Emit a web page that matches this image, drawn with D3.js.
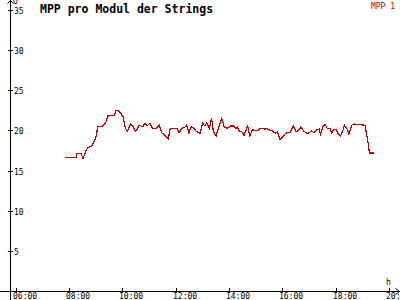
<!DOCTYPE html>
<html>
<head>
<meta charset="utf-8">
<script src="https://cdn.jsdelivr.net/npm/d3@7"></script>
<style>
  body { margin: 0; background: #fff; }
  svg { display: block; }
  text { font-family: "DejaVu Sans Mono", monospace; }
</style>
</head>
<body>
<div id="chart"></div>
<script>
// Values
const TITLE = "MPP pro Modul der Strings";
const SERIES_NAME = "MPP 1";
const X_TICKS = ["06:00", "08:00", "10:00", "12:00", "14:00", "16:00", "18:00", "20:00"];
const Y_TICKS = [5, 10, 15, 20, 25, 30, 35];

const TIMES = [
  "07:51", "08:16", "08:18", "08:27", "08:32", "08:39", "08:44", "08:51", "08:55", "09:01",
  "09:05", "09:17", "09:24", "09:27", "09:42", "09:46", "09:51", "09:57", "10:02", "10:07",
  "10:12", "10:19", "10:25", "10:29", "10:33", "10:38", "10:46", "10:51", "10:56", "11:02",
  "11:09", "11:16", "11:23", "11:29", "11:36", "11:44", "11:47", "11:55", "12:03", "12:08",
  "12:14", "12:21", "12:25", "12:30", "12:35", "12:42", "12:47", "12:55", "13:01", "13:06",
  "13:10", "13:16", "13:21", "13:25", "13:31", "13:36", "13:44", "13:49", "13:56", "14:04",
  "14:11", "14:16", "14:19", "14:23", "14:29", "14:34", "14:42", "14:47", "14:53", "14:59",
  "15:04", "15:10", "15:17", "15:21", "15:25", "15:31", "15:38", "15:44", "15:49", "15:55",
  "16:01", "16:06", "16:10", "16:17", "16:21", "16:25", "16:31", "16:36", "16:42", "16:48",
  "16:53", "16:58", "17:06", "17:11", "17:17", "17:23", "17:26", "17:31", "17:36", "17:41",
  "17:47", "17:51", "17:55", "18:01", "18:06", "18:11", "18:16", "18:20", "18:25", "18:30",
  "18:36", "18:41", "19:06", "19:10", "19:13", "19:16", "19:26"
];
const MPP1 = [
  16.65, 16.65, 17.15, 17.15, 16.5, 17.55, 17.9, 18.05, 18.4, 19.2,
  20.45, 20.55, 21.1, 21.8, 21.85, 22.45, 22.45, 22.1, 21.7, 20.25,
  19.95, 20.75, 20.45, 19.9, 20.05, 20.65, 20.45, 20.9, 20.55, 20.9,
  20.2, 20.25, 20.65, 19.7, 19.4, 18.9, 20.15, 20.25, 20.25, 19.7,
  20.25, 20.4, 20.65, 19.7, 20.45, 20.25, 19.85, 19.65, 20.9, 20.55,
  20.95, 20.25, 21.5, 19.85, 19.3, 20.25, 21.5, 20.45, 20.25, 20.55,
  20.55, 20.25, 20.45, 19.95, 19.85, 19.4, 20.55, 19.3, 20.15, 19.95,
  19.95, 20.25, 20.25, 20.15, 20.25, 20.05, 19.95, 19.65, 19.85, 18.9,
  19.2, 19.55, 19.7, 19.7, 20.15, 20.55, 19.85, 19.95, 20.45, 19.95,
  19.7, 19.65, 19.95, 19.7, 20.05, 20.15, 19.55, 20.45, 20.8, 20.25,
  20.25, 19.7, 20.05, 20.15, 19.55, 19.3, 19.95, 20.65, 20.25, 19.55,
  20.65, 20.8, 20.65, 19.4, 18.4, 17.2, 17.2
];

const width = 400, height = 300;
const RED = "#c00000";

function toHours(s) {
  const p = s.split(":");
  return +p[0] + +p[1] / 60;
}

const xScale = d3.scaleLinear().domain([6, 20]).range([15.5, 389]);
const yScale = d3.scaleLinear().domain([0, 35]).range([291, 10]);
const axisX = 10, axisY = 291;

const svg = d3.select("#chart").append("svg")
  .attr("width", width)
  .attr("height", height);

// Y axis with arrow
svg.append("line")
  .attr("x1", axisX + 0.5).attr("x2", axisX + 0.5)
  .attr("y1", 0).attr("y2", height)
  .attr("stroke", "#000").attr("shape-rendering", "crispEdges");
svg.append("path")
  .attr("d", `M${axisX - 2.5},3.5 L${axisX + 0.5},0.5 L${axisX + 3.5},3.5`)
  .attr("fill", "none").attr("stroke", "#000");

// X axis with arrow
svg.append("line")
  .attr("x1", 0).attr("x2", width)
  .attr("y1", axisY + 0.5).attr("y2", axisY + 0.5)
  .attr("stroke", "#000").attr("shape-rendering", "crispEdges");
svg.append("path")
  .attr("d", `M${width - 4.5},${axisY - 2.5} L${width - 0.5},${axisY + 0.5} L${width - 4.5},${axisY + 3.5}`)
  .attr("fill", "none").attr("stroke", "#000");

// Y ticks and labels
const yt = svg.append("g").selectAll("g").data(Y_TICKS).join("g")
  .attr("transform", d => `translate(0,${Math.round(yScale(d))})`);
yt.append("line")
  .attr("x1", axisX - 2).attr("x2", axisX + 3)
  .attr("y1", 0.5).attr("y2", 0.5)
  .attr("stroke", "#000").attr("shape-rendering", "crispEdges");
yt.append("text")
  .attr("x", axisX + 4).attr("y", 3.5)
  .attr("font-size", 8)
  .text(d => d);

// X ticks and labels (the last one runs off the right edge, as in the original)
const xt = svg.append("g").selectAll("g").data(X_TICKS).join("g")
  .attr("transform", d => `translate(${Math.round(xScale(toHours(d)))},0)`);
xt.append("line")
  .attr("x1", 0.5).attr("x2", 0.5)
  .attr("y1", axisY - 3).attr("y2", axisY + 2)
  .attr("stroke", "#000").attr("shape-rendering", "crispEdges");
xt.append("text")
  .attr("x", -3).attr("y", 299)
  .attr("font-size", 8)
  .text(d => d);

// axis unit labels
svg.append("text").attr("x", 13).attr("y", 4).attr("font-size", 8).text("U");
svg.append("text").attr("x", 386).attr("y", 285).attr("font-size", 8).text("h");

// title and legend
svg.append("text")
  .attr("x", 40).attr("y", 13)
  .attr("font-size", 11.5).attr("font-weight", "bold")
  .text(TITLE);
svg.append("text")
  .attr("x", 395).attr("y", 9)
  .attr("text-anchor", "end")
  .attr("font-size", 8)
  .attr("fill", RED)
  .text(SERIES_NAME);

// data line
const data = TIMES.map((t, i) => ({ t: toHours(t), v: MPP1[i] }));
const line = d3.line()
  .x(d => xScale(d.t))
  .y(d => yScale(d.v));
svg.append("path")
  .datum(data)
  .attr("d", line)
  .attr("fill", "none")
  .attr("stroke", RED)
  .attr("stroke-width", 1.2)
  .attr("shape-rendering", "crispEdges");
</script>
</body>
</html>
